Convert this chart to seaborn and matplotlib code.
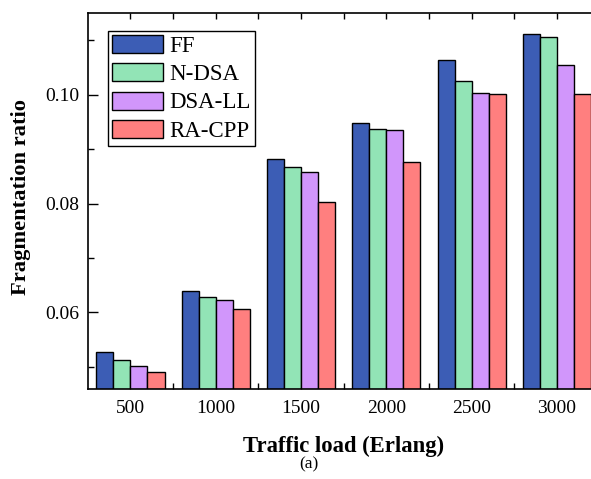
import matplotlib
matplotlib.use("Agg")
import matplotlib.pyplot as plt
from matplotlib.ticker import FixedLocator
import pandas as pd
import seaborn as sns

loads = ["500", "1000", "1500", "2000", "2500", "3000"]
methods = ["FF", "N-DSA", "DSA-LL", "RA-CPP"]
ff = [0.0527, 0.0639, 0.0882, 0.0949, 0.1065, 0.1112]
n_dsa = [0.0512, 0.0629, 0.0868, 0.0938, 0.1026, 0.1106]
dsa_ll = [0.0502, 0.0623, 0.0858, 0.0936, 0.1004, 0.1055]
ra_cpp = [0.0491, 0.0607, 0.0803, 0.0876, 0.1001, 0.1001]
colors = ["#3C5DB5", "#92E4B6", "#D196FB", "#FF7F7F"]
y_major = [0.06, 0.08, 0.10]
y_minor = [0.05, 0.07, 0.09, 0.11]

sns.set_theme(style="ticks")
plt.rcParams["font.family"] = ["Liberation Serif", "DejaVu Serif"]
plt.rcParams["text.color"] = "black"
plt.rcParams["axes.labelcolor"] = "black"
plt.rcParams["xtick.color"] = "black"
plt.rcParams["ytick.color"] = "black"

rows = []
for name, vals in zip(methods, [ff, n_dsa, dsa_ll, ra_cpp]):
    for load, v in zip(loads, vals):
        rows.append({"load": load, "method": name, "ratio": v})
df = pd.DataFrame(rows)

fig = plt.figure(figsize=(5.91, 4.79), dpi=100)
ax = fig.add_axes([87.7 / 591, 90 / 479, 512 / 591, 375.7 / 479])

sns.barplot(data=df, x="load", y="ratio", hue="method", order=loads,
            hue_order=methods, palette=colors, edgecolor="black",
            linewidth=1.0, width=0.8, gap=0, errorbar=None, ax=ax,
            saturation=1)

ax.set_xlim(-0.5, 5.5)
ax.set_ylim(0.0459, 0.115)
ax.yaxis.set_major_locator(FixedLocator(y_major))
ax.yaxis.set_minor_locator(FixedLocator(y_minor))
ax.set_yticklabels([f"{v:.2f}" for v in y_major])
ax.xaxis.set_minor_locator(FixedLocator([0.5, 1.5, 2.5, 3.5, 4.5]))

ax.tick_params(axis="both", which="both", direction="in", top=True,
               right=True, colors="black", labelcolor="black",
               labelsize=14, width=1.0)
ax.tick_params(axis="y", which="major", length=7, pad=6)
ax.tick_params(axis="y", which="minor", length=4)
ax.tick_params(axis="x", which="both", length=4, pad=8)

for sp in ax.spines.values():
    sp.set_linewidth(1.2)
    sp.set_color("black")

ax.set_xlabel("Traffic load (Erlang)", fontsize=16.3, fontweight="bold",
              color="black")
ax.set_ylabel("Fragmentation ratio", fontsize=16.2, fontweight="bold",
              color="black")
ax.xaxis.label.set_va("center")
ax.yaxis.label.set_va("center")
ax.xaxis.set_label_coords(0.5, -0.152)
ax.yaxis.set_label_coords(-0.130, 0.51)

leg = ax.legend(loc="upper left", bbox_to_anchor=(0.039, 0.9537),
                borderaxespad=0, fontsize=16.5, frameon=True, fancybox=False,
                framealpha=1, edgecolor="black", handlelength=2.2,
                handleheight=0.83, handletextpad=0.28, labelspacing=0.27,
                borderpad=0.2)
leg.get_frame().set_linewidth(1.0)
for t in leg.get_texts():
    t.set_color("black")

fig.text(309 / 591, 1 - 464 / 479, "(a)", ha="center", va="center",
         fontsize=12.5, color="black")

fig.savefig("out.png", dpi=100)
